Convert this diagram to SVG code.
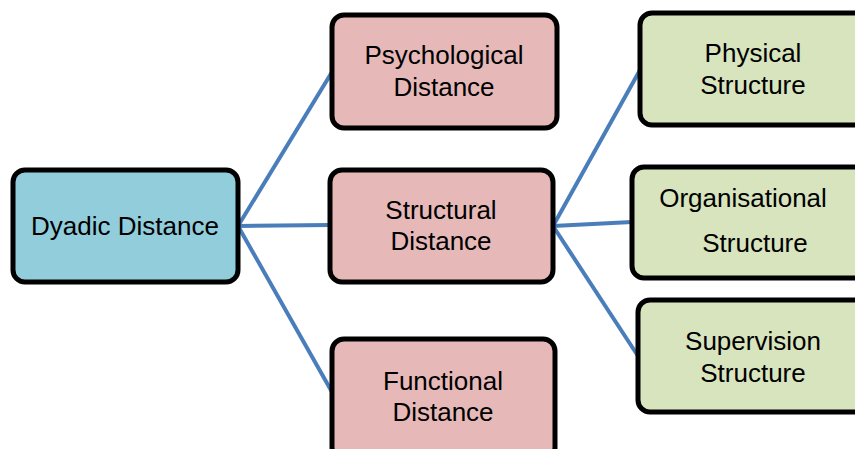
<svg xmlns="http://www.w3.org/2000/svg" width="855" height="449" viewBox="0 0 855 449">
  <style>
    .box { stroke: #000; stroke-width: 5; }
    .root { fill: #92CDDC; }
    .mid { fill: #E6B9B8; }
    .leaf { fill: #D7E4BD; }
    .lbl { font-family: "Liberation Sans", Arial, sans-serif; font-size: 26px; fill: #000; text-anchor: middle; }
    .link { stroke: #4A7EBB; stroke-width: 4; fill: none; stroke-linecap: round; }
  </style>

  <!-- connectors -->
  <g id="connectors">
    <line class="link" x1="238" y1="226" x2="332" y2="72"/>
    <line class="link" x1="238" y1="226" x2="330" y2="225"/>
    <line class="link" x1="238" y1="226" x2="332" y2="392"/>
    <line class="link" x1="553" y1="226" x2="640" y2="70"/>
    <line class="link" x1="553" y1="226" x2="632" y2="222"/>
    <line class="link" x1="553" y1="226" x2="638" y2="356"/>
  </g>

  <g id="dyadic">
    <rect class="box root" x="13" y="170" width="225" height="112" rx="12"/>
    <text class="lbl" x="125" y="235">Dyadic Distance</text>
  </g>

  <g id="psychological">
    <rect class="box mid" x="332" y="15" width="225" height="113" rx="12"/>
    <text class="lbl" x="444" y="64">Psychological</text>
    <text class="lbl" x="444" y="96">Distance</text>
  </g>

  <g id="structural">
    <rect class="box mid" x="330" y="170" width="223" height="112" rx="12"/>
    <text class="lbl" x="441" y="219">Structural</text>
    <text class="lbl" x="441" y="250">Distance</text>
  </g>

  <g id="functional">
    <rect class="box mid" x="332" y="339" width="223" height="120" rx="12"/>
    <text class="lbl" x="443" y="390">Functional</text>
    <text class="lbl" x="443" y="421">Distance</text>
  </g>

  <g id="physical">
    <rect class="box leaf" x="640" y="13" width="230" height="112" rx="12"/>
    <text class="lbl" x="753" y="62">Physical</text>
    <text class="lbl" x="753" y="94">Structure</text>
  </g>

  <g id="organisational">
    <rect class="box leaf" x="632" y="167" width="240" height="111" rx="12"/>
    <text class="lbl" x="743" y="207">Organisational</text>
    <text class="lbl" x="755" y="252">Structure</text>
  </g>

  <g id="supervision">
    <rect class="box leaf" x="638" y="300" width="235" height="112" rx="12"/>
    <text class="lbl" x="753" y="350">Supervision</text>
    <text class="lbl" x="753" y="382">Structure</text>
  </g>
</svg>
